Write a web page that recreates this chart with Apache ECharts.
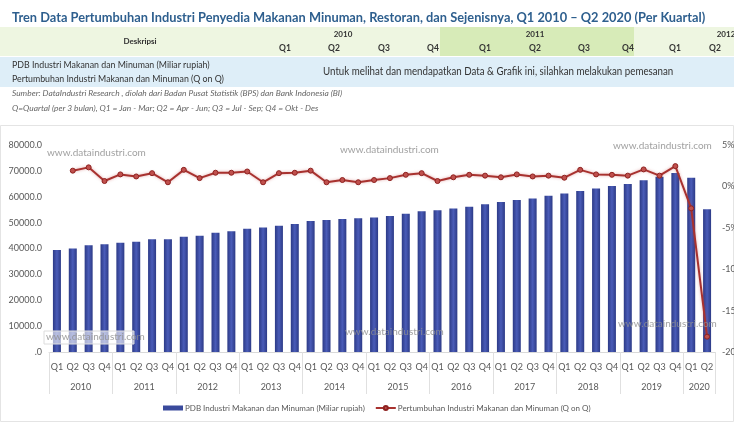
<!DOCTYPE html>
<html>
<head>
<meta charset="utf-8">
<script src="https://cdn.jsdelivr.net/npm/echarts@6/dist/echarts.min.js"></script>
<style>
  html, body { margin: 0; padding: 0; background: #fff; }
  #chart { width: 734px; height: 422px; }
</style>
</head>
<body>
<div id="chart"></div>
<script>
// data
const years = ['2010', '2011', '2012', '2013', '2014', '2015', '2016', '2017', '2018', '2019', '2020'];
const quarters = ['Q1', 'Q2', 'Q3', 'Q4', 'Q1', 'Q2', 'Q3', 'Q4', 'Q1', 'Q2', 'Q3', 'Q4',
  'Q1', 'Q2', 'Q3', 'Q4', 'Q1', 'Q2', 'Q3', 'Q4', 'Q1', 'Q2', 'Q3', 'Q4',
  'Q1', 'Q2', 'Q3', 'Q4', 'Q1', 'Q2', 'Q3', 'Q4', 'Q1', 'Q2', 'Q3', 'Q4',
  'Q1', 'Q2', 'Q3', 'Q4', 'Q1', 'Q2'];
const pdb = [39400, 40000, 41300, 41600, 42200, 42600, 43600, 43600, 44500, 44900, 46100, 46700,
  47600, 48100, 48800, 49500, 50600, 51000, 51400, 51700, 52000, 52600, 53400, 54400,
  54800, 55500, 56100, 57100, 58000, 58700, 59300, 60400, 61300, 62200, 63200, 64200,
  64900, 66400, 67700, 69200, 67300, 55200];
const growth = [null, 1.9, 2.3, 0.65, 1.45, 1.2, 1.6, 0.5, 2.0, 1.0, 1.65, 1.65,
  1.8, 0.5, 1.6, 1.65, 1.9, 0.5, 0.77, 0.5, 0.77, 1.0, 1.4, 1.6,
  0.65, 1.1, 1.4, 1.3, 1.1, 1.45, 1.2, 1.3, 1.05, 2.0, 1.45, 1.4,
  1.3, 2.05, 1.3, 2.45, -2.65, -18.15];
const leftTicks = [0, 10000, 20000, 30000, 40000, 50000, 60000, 70000, 80000];
const rightTicks = [-20, -15, -10, -5, 0, 5];

const barName = 'PDB Industri Makanan dan Minuman (Miliar rupiah)';
const lineName = 'Pertumbuhan Industri Makanan dan Minuman (Q on Q)';
const yearOfQuarter = quarters.map((q, i) => years[Math.floor(i / 4)]);

const font = 'Lato, "Open Sans", sans-serif';
const wm = 'www.dataindustri.com';

function wmText(x, y) {
  return { type: 'text', left: x, top: y, z: 5, silent: true,
    style: { text: wm, fill: '#8f8f8f', font: '10px ' + font, opacity: 0.85 } };
}

const chart = echarts.init(document.getElementById('chart'));

const option = {
  backgroundColor: '#fff',
  animation: false,
  textStyle: { fontFamily: font },
  graphic: [
    { type: 'text', x: 12, y: 17, scaleX: 0.915, style: { text: 'Tren Data Pertumbuhan Industri Penyedia Makanan Minuman, Restoran, dan Sejenisnya, Q1 2010 \u2013 Q2 2020 (Per Kuartal)',
        fill: '#2e5f8e', font: 'bold 14px ' + font, verticalAlign: 'middle' } },
    // header table
    { type: 'rect', shape: { x: 0, y: 27, width: 734, height: 29 }, style: { fill: '#eef6e1' }, z: 0 },
    { type: 'rect', shape: { x: 440, y: 27, width: 194, height: 29 }, style: { fill: '#d7ebb8' }, z: 0 },
    { type: 'rect', shape: { x: 0, y: 57, width: 734, height: 30 }, style: { fill: '#deeef8' }, z: 0 },
    { type: 'text', x: 140, y: 41, style: { text: 'Deskripsi', fill: '#333', font: 'bold 8px ' + font, align: 'center', verticalAlign: 'middle' } },
    { type: 'text', x: 343, y: 34, style: { text: '2010', fill: '#333', font: 'bold 8px ' + font, align: 'center', verticalAlign: 'middle' } },
    { type: 'text', x: 535, y: 34, style: { text: '2011', fill: '#333', font: 'bold 8px ' + font, align: 'center', verticalAlign: 'middle' } },
    { type: 'text', x: 726, y: 34, style: { text: '2012', fill: '#333', font: 'bold 8px ' + font, align: 'center', verticalAlign: 'middle' } },
    ...[[285, 'Q1'], [334, 'Q2'], [384, 'Q3'], [433, 'Q4'], [485, 'Q1'], [535, 'Q2'], [584, 'Q3'], [628, 'Q4'], [675, 'Q1'], [715, 'Q2']]
      .map(([x, t]) => ({ type: 'text', x: x, y: 48, style: { text: t, fill: '#333', font: 'bold 8.5px ' + font, align: 'center', verticalAlign: 'middle' } })),
    { type: 'text', x: 12, y: 65, style: { text: barName, fill: '#333', font: '8.8px ' + font, verticalAlign: 'middle' } },
    { type: 'text', x: 12, y: 79, style: { text: lineName, fill: '#333', font: '8.8px ' + font, verticalAlign: 'middle' } },
    { type: 'text', x: 323, y: 71, scaleX: 0.885, style: { text: 'Untuk melihat dan mendapatkan Data & Grafik ini, silahkan melakukan pemesanan', fill: '#333', font: '11px ' + font, verticalAlign: 'middle' } },
    { type: 'text', x: 12, y: 93, style: { text: 'Sumber: DataIndustri Research , diolah dari Badan Pusat Statistik (BPS) dan Bank Indonesia (BI)', fill: '#666', font: 'italic 8.4px ' + font, verticalAlign: 'middle' } },
    { type: 'text', x: 12, y: 108, style: { text: 'Q=Quartal (per 3 bulan), Q1 = Jan - Mar; Q2 = Apr - Jun; Q3 = Jul - Sep; Q4 = Okt - Des', fill: '#666', font: 'italic 8.4px ' + font, verticalAlign: 'middle' } },
    // chart panel
    { type: 'rect', shape: { x: 0.5, y: 125.5, width: 733, height: 296 }, style: { fill: '#fff', stroke: '#e4e4e4' }, z: -1 },
    wmText(47, 148), wmText(340, 145), wmText(613, 141),
    { type: 'rect', shape: { x: 44, y: 331, width: 90, height: 13 }, style: { fill: 'rgba(255,255,255,0.6)', stroke: '#dcdcdc' }, z: 4 },
    wmText(46, 332), wmText(345, 327), wmText(618, 319)
  ],
  legend: {
    bottom: 5,
    left: 158,
    itemGap: 10,
    textStyle: { color: '#595959', fontSize: 8, padding: [0, 0, 0, -3] },
    data: [
      { name: barName, icon: 'rect', itemStyle: { color: '#3a4a9c' } },
      { name: lineName }
    ],
    itemWidth: 20,
    itemHeight: 5
  },
  grid: { left: 49, right: 19, top: 145, bottom: 70, outerBoundsMode: 'none' },
  xAxis: [
    {
      type: 'category',
      data: quarters,
      position: 'bottom',
      axisLine: { lineStyle: { color: '#d9d9d9' } },
      axisTick: { show: true, interval: (i) => i % 4 === 0, length: 42, lineStyle: { color: '#e0e0e0' } },
      axisLabel: { color: '#595959', fontSize: 9, margin: 11, interval: 0 }
    },
    {
      type: 'category',
      data: yearOfQuarter,
      position: 'bottom',
      offset: 20,
      axisLine: { show: false },
      axisTick: { show: false },
      axisLabel: {
        color: '#595959', fontSize: 9, margin: 11,
        interval: (i) => (i % 4 === 1 && i < 40) || i === 40,
        formatter: (v) => '{y|' + v + '}',
        rich: { y: { padding: [0, 0, 0, 16], fontSize: 9, color: '#595959' } }
      }
    }
  ],
  yAxis: [
    {
      type: 'value',
      min: leftTicks[0],
      max: leftTicks[leftTicks.length - 1],
      interval: 10000,
      splitLine: { show: false },
      axisLine: { show: false },
      axisLabel: { color: '#595959', fontSize: 9, margin: 7, formatter: (v) => v === 0 ? '.0' : v.toFixed(1) }
    },
    {
      type: 'value',
      min: rightTicks[0],
      max: rightTicks[rightTicks.length - 1],
      interval: 5,
      splitLine: { show: false },
      axisLine: { show: false },
      axisLabel: { color: '#595959', fontSize: 9, margin: 7, formatter: '{value}%' }
    }
  ],
  series: [
    {
      name: barName,
      type: 'bar',
      data: pdb,
      barWidth: 8,
      itemStyle: {
        color: new echarts.graphic.LinearGradient(0, 0, 1, 0, [
          { offset: 0, color: '#2c3a86' },
          { offset: 0.5, color: '#4a5cb8' },
          { offset: 1, color: '#2c3a86' }
        ])
      }
    },
    {
      name: lineName,
      type: 'line',
      yAxisIndex: 1,
      data: growth,
      symbol: 'circle',
      symbolSize: 5,
      lineStyle: { color: '#a8322f', width: 2, shadowColor: 'rgba(200,80,80,0.5)', shadowBlur: 3 },
      itemStyle: { color: '#c0504d', borderColor: '#8e2220', borderWidth: 1 }
    }
  ]
};

chart.setOption(option);
window.addEventListener('resize', () => chart.resize());
</script>
</body>
</html>
